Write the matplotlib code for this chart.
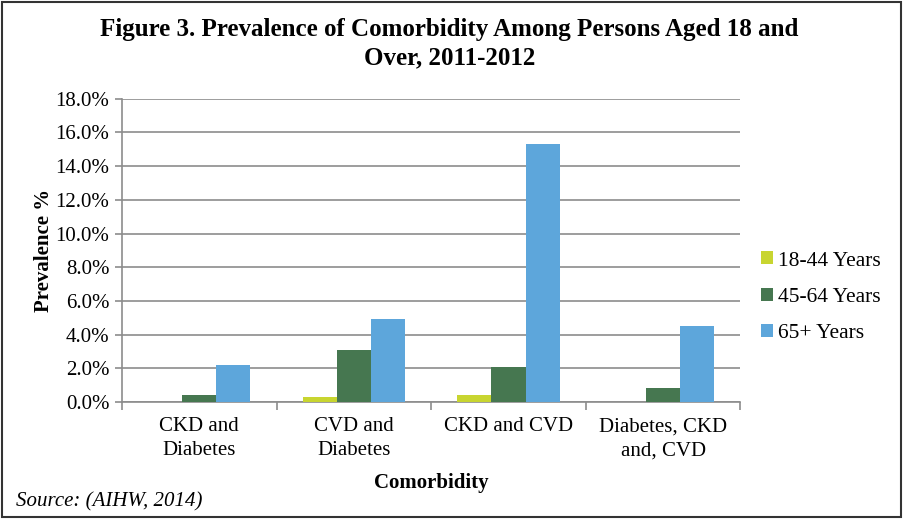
import numpy as np
import matplotlib
matplotlib.use('Agg')
import matplotlib.pyplot as plt
from matplotlib.patches import Rectangle

# данные
categories = ['CKD and\nDiabetes', 'CVD and\nDiabetes', 'CKD and CVD', 'Diabetes, CKD\nand, CVD']
series_names = ['18-44 Years', '45-64 Years', '65+ Years']
age_18_44 = [0.0, 0.3, 0.4, 0.0]
age_45_64 = [0.4, 3.1, 2.1, 0.8]
age_65_plus = [2.2, 4.9, 15.3, 4.5]
y_ticks = [0, 2, 4, 6, 8, 10, 12, 14, 16, 18]
colors = ['#C8D530', '#467750', '#5DA6DB']

plt.rcParams['font.family'] = ['Liberation Serif', 'DejaVu Serif']

fig = plt.figure(figsize=(9.04, 5.31), dpi=100)
ax = fig.add_axes([0.135, 0.243, 0.684, 0.571])

x = np.arange(len(categories))
w = 0.22
for i, (vals, name) in enumerate(zip([age_18_44, age_45_64, age_65_plus], series_names)):
    ax.bar(x + (i - 1) * w, vals, width=w, color=colors[i], label=name, zorder=3)

ax.set_xlim(-0.5, len(categories) - 0.5)
ax.set_ylim(0, 18)
ax.set_yticks(y_ticks)
ax.set_yticklabels([f'{v:.1f}%' for v in y_ticks], fontsize=15)
ax.yaxis.grid(True, color='#8c8c8c', linewidth=1.2, zorder=0)

ax.set_xticks(x)
ax.set_xticklabels(categories, fontsize=15, linespacing=1.35)
ax.set_xticks(np.arange(-0.5, len(categories), 1), minor=True)
ax.tick_params(axis='x', which='major', length=0, pad=11)
ax.tick_params(axis='x', which='minor', length=6, color='#8c8c8c', width=1.2)
ax.tick_params(axis='y', length=5, color='#8c8c8c', width=1.2, pad=4)

for side in ['top', 'right']:
    ax.spines[side].set_visible(False)
for side in ['left', 'bottom']:
    ax.spines[side].set_color('#8c8c8c')
    ax.spines[side].set_linewidth(1.2)

ax.set_xlabel('Comorbidity', fontsize=15, fontweight='bold', labelpad=9)
ax.set_ylabel('Prevalence %', fontsize=15, fontweight='bold', labelpad=1)

fig.text(0.497, 0.918, 'Figure 3. Prevalence of Comorbidity Among Persons Aged 18 and\nOver, 2011-2012',
         ha='center', va='center', fontsize=18, fontweight='bold', linespacing=1.3)

fig.legend(loc='center left', bbox_to_anchor=(0.842, 0.44), frameon=False, fontsize=15.5,
           handlelength=0.55, handleheight=0.55, handletextpad=0.25, labelspacing=0.8,
           borderpad=0, borderaxespad=0)

fig.text(0.018, 0.055, 'Source: (AIHW, 2014)', fontsize=15, style='italic', va='center')

fig.patches.append(Rectangle((0.002, 1 - 517 / 531), 0.995, 517 / 531 - 0.003, transform=fig.transFigure,
                             fill=False, edgecolor='#333333', linewidth=1.5))

fig.savefig('out.png', dpi=100)
